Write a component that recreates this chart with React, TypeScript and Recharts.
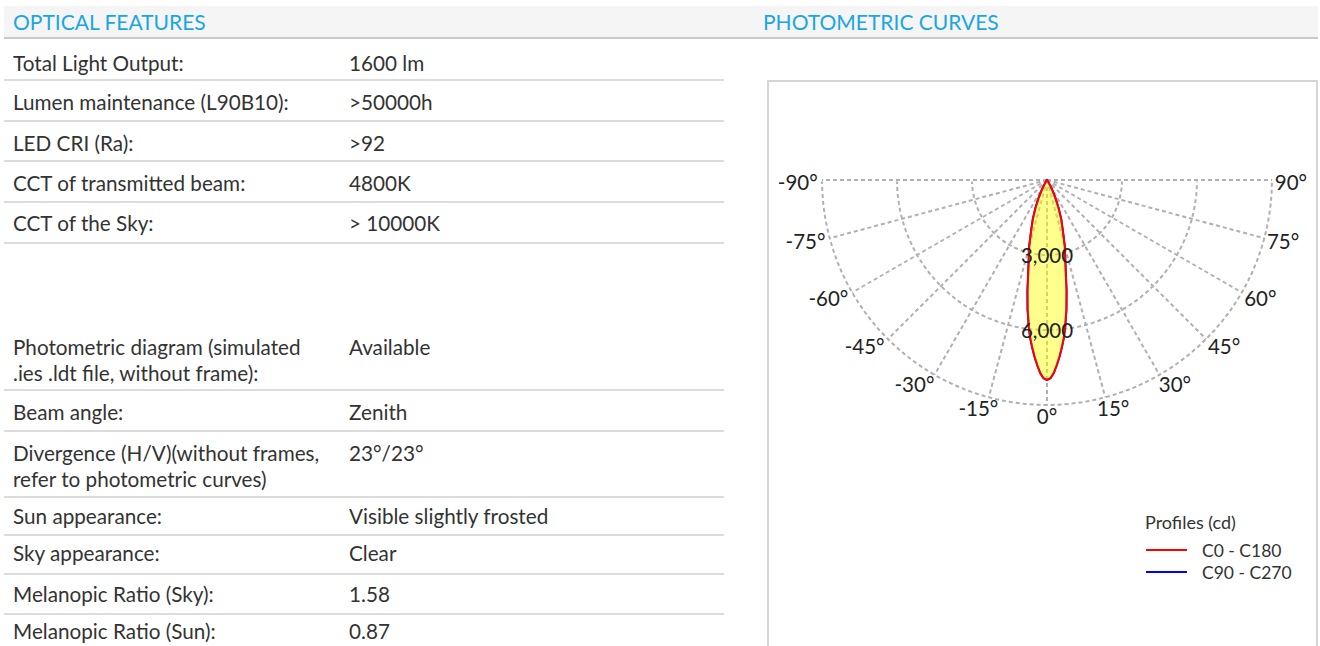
import React from 'react';
import {
  RadarChart,
  Radar,
  PolarGrid,
  PolarAngleAxis,
  PolarRadiusAxis,
  Legend,
} from 'recharts';

document.body.style.margin = '0';

const FONT = 'Lato, "Noto Sans", sans-serif';
const HEADER_BLUE = '#1ba6e2';
const TEXT = '#333';

// optical features table
const featureLabels = [
  'Total Light Output:',
  'Lumen maintenance (L90B10):',
  'LED CRI (Ra):',
  'CCT of transmitted beam:',
  'CCT of the Sky:',
  '',
  'Photometric diagram (simulated\n.ies .ldt file, without frame):',
  'Beam angle:',
  'Divergence (H/V)(without frames,\nrefer to photometric curves)',
  'Sun appearance:',
  'Sky appearance:',
  'Melanopic Ratio (Sky):',
  'Melanopic Ratio (Sun):',
];
const featureValues = [
  '1600 lm',
  '>50000h',
  '>92',
  '4800K',
  '> 10000K',
  '',
  'Available',
  'Zenith',
  '23°/23°',
  'Visible slightly frosted',
  'Clear',
  '1.58',
  '0.87',
];
// [row height, top padding]
const rowLayout = [
  [42, 11], [41, 8], [40, 8], [41, 8], [41, 7], [83, 0],
  [64, 7], [41, 8], [66, 8], [38, 5], [39, 4], [40, 6], [38, 3],
];

// photometric curve (gamma angle in degrees, intensity in cd)
const gammaAngles = [
  -90, -60, -50, -40, -35, -30, -27.5, -25, -22.5, -20, -17.5, -15, -12.5, -10, -8.5, -7, -6, -5, -4, -3, -2, -1,
  0, 1, 2, 3, 4, 5, 6, 7, 8.5, 10, 12.5, 15, 17.5, 20, 22.5, 25, 27.5, 30, 35, 40, 50, 60, 90,
];
const c0c180 = [
  0, 5, 10, 30, 80, 250, 450, 800, 1200, 1650, 2100, 2750, 3400, 4500, 5250, 5950, 6380, 6750, 7100, 7420, 7730, 7930,
  8000, 7930, 7730, 7420, 7100, 6750, 6380, 5950, 5250, 4500, 3400, 2750, 2100, 1650, 1200, 800, 450, 250, 80, 30, 10, 5, 0,
];
const c90c270 = [
  0, 5, 10, 30, 80, 250, 450, 800, 1200, 1650, 2100, 2750, 3400, 4500, 5250, 5950, 6380, 6750, 7100, 7420, 7730, 7930,
  8000, 7930, 7730, 7420, 7100, 6750, 6380, 5950, 5250, 4500, 3400, 2750, 2100, 1650, 1200, 800, 450, 250, 80, 30, 10, 5, 0,
];

const angleTicks = [-90, -75, -60, -45, -30, -15, 0, 15, 30, 45, 60, 75, 90];
const radialTicks = [0, 3000, 6000, 9000];
const labelledRadii = [3000, 6000];
const fineAngleTicks = Array.from({ length: 61 }, (_, i) => -90 + i * 3);
const legendTitle = 'Profiles (cd)';

const CHART_W = 547;
const CHART_H = 596;
const CX = 278;
const CY = 98;
const OUTER_R = 225;
const GRID = { stroke: '#b0b0b0', strokeDasharray: '4 3', strokeWidth: 2 };
const LABEL_SIZE = 20.5;

const AngleTick = (props: any) => {
  const { x, y, payload } = props;
  const dx = x - CX;
  const dy = y - CY;
  const len = Math.hypot(dx, dy) || 1;
  const ux = dx / len;
  const uy = dy / len;
  const label = `${payload.value}°`;
  const halfW = label.length * 5.3;
  const r = OUTER_R + 3;
  const px = CX + ux * r + Math.sign(ux) * halfW * Math.min(1, Math.abs(ux) * 1.75);
  const py = CY + uy * r + 2 + 6 * uy * uy;
  return (
    <text
      x={px}
      y={py}
      textAnchor="middle"
      dominantBaseline="central"
      fill="#222"
      style={{ fontFamily: FONT, fontSize: LABEL_SIZE }}
    >
      {label}
    </text>
  );
};

const RadiusTick = (props: any) => {
  const { x, y, payload } = props;
  if (!labelledRadii.includes(payload.value)) return <g />;
  return (
    <text
      x={x}
      y={y}
      textAnchor="middle"
      dominantBaseline="central"
      fill="#222"
      style={{ fontFamily: FONT, fontSize: LABEL_SIZE }}
    >
      {Number(payload.value).toLocaleString('en-US')}
    </text>
  );
};

const renderLegend = (props: any) => {
  const items = props.payload ?? [];
  return (
    <div style={{ fontFamily: FONT, color: TEXT }}>
      <div style={{ fontSize: 18, lineHeight: '22px', marginBottom: 6 }}>{legendTitle}</div>
      {items.map((entry: any) => (
        <div key={entry.value} style={{ display: 'flex', alignItems: 'center', height: 22 }}>
          <span
            style={{
              display: 'inline-block',
              width: 41,
              height: 2,
              background: entry.color,
              marginLeft: 1,
              marginRight: 15,
            }}
          />
          <span style={{ fontSize: 17.5 }}>{entry.value}</span>
        </div>
      ))}
    </div>
  );
};

export default function App() {
  const data = gammaAngles.map((angle, i) => ({
    angle,
    c0: c0c180[i],
    c90: c90c270[i],
  }));

  return (
    <div
      style={{
        position: 'relative',
        width: 1320,
        height: 646,
        overflow: 'hidden',
        background: '#fff',
        fontFamily: FONT,
        color: TEXT,
      }}
    >
      {/* clip for the ring grid: keeps the closing chords of the rings off the 0-line */}
      <svg width={0} height={0} style={{ position: 'absolute' }}>
        <defs>
          <clipPath id="below-axis" clipPathUnits="userSpaceOnUse">
            <rect x={0} y={CY + 1.5} width={CHART_W} height={CHART_H} />
          </clipPath>
        </defs>
      </svg>

      {/* header band */}
      <div
        style={{
          position: 'absolute',
          left: 4,
          top: 6,
          width: 1314,
          height: 31,
          background: '#f5f5f5',
          borderBottom: '2px solid #c8c8c8',
        }}
      />
      <div style={{ position: 'absolute', left: 13, top: 6, lineHeight: '31px', fontSize: 21, color: HEADER_BLUE }}>
        OPTICAL FEATURES
      </div>
      <div style={{ position: 'absolute', left: 763, top: 6, lineHeight: '31px', fontSize: 21, color: HEADER_BLUE }}>
        PHOTOMETRIC CURVES
      </div>

      {/* features table */}
      <div style={{ position: 'absolute', left: 4, top: 39, width: 720 }}>
        {featureLabels.map((label, i) => (
          <div
            key={i}
            style={{
              height: rowLayout[i][0],
              boxSizing: 'border-box',
              paddingTop: rowLayout[i][1],
              borderBottom: i === 5 ? 'none' : '2px solid #dcdcdc',
              display: 'flex',
              fontSize: 20.7,
              lineHeight: '26px',
            }}
          >
            <div style={{ width: 345, paddingLeft: 9, boxSizing: 'border-box', whiteSpace: 'pre-line' }}>{label}</div>
            <div>{featureValues[i]}</div>
          </div>
        ))}
      </div>

      {/* photometric chart panel */}
      <div
        style={{
          position: 'absolute',
          left: 767,
          top: 80,
          width: 551,
          height: 600,
          border: '2px solid #d5d5d5',
          boxSizing: 'border-box',
        }}
      >
        <RadarChart
          width={CHART_W}
          height={CHART_H}
          data={data}
          cx={CX}
          cy={CY}
          outerRadius={OUTER_R}
          startAngle={180}
          endAngle={360}
          margin={{ top: 0, right: 0, bottom: 0, left: 0 }}
        >
          <PolarGrid
            angleAxisId="fine"
            gridType="polygon"
            radialLines={false}
            clipPath="url(#below-axis)"
            {...GRID}
          />
          <PolarGrid gridType="polygon" polarRadius={[]} {...GRID} />
          <PolarAngleAxis
            angleAxisId="fine"
            dataKey="angle"
            type="number"
            domain={[-90, 90]}
            ticks={fineAngleTicks}
            tick={false}
            tickLine={false}
            axisLine={false}
          />
          <PolarAngleAxis
            dataKey="angle"
            type="number"
            domain={[-90, 90]}
            ticks={angleTicks}
            tick={AngleTick}
            tickLine={false}
            axisLine={false}
          />
          <Radar
            name="C90 - C270"
            dataKey="c90"
            stroke="#0000ff"
            strokeWidth={2}
            fill="none"
            fillOpacity={0}
            isAnimationActive={false}
          />
          <Radar
            name="C0 - C180"
            dataKey="c0"
            stroke="#ff0000"
            strokeWidth={2}
            strokeLinejoin="round"
            fill="#ffff00"
            fillOpacity={0.45}
            isAnimationActive={false}
          />
          <PolarRadiusAxis
            angle={270}
            domain={[0, 9000]}
            ticks={radialTicks}
            tick={RadiusTick}
            tickLine={false}
            axisLine={false}
          />
          <Legend
            layout="horizontal"
            verticalAlign="middle"
            align="center"
            content={renderLegend}
            wrapperStyle={{ left: 376, top: 429, width: 170 }}
          />
        </RadarChart>
      </div>
    </div>
  );
}
